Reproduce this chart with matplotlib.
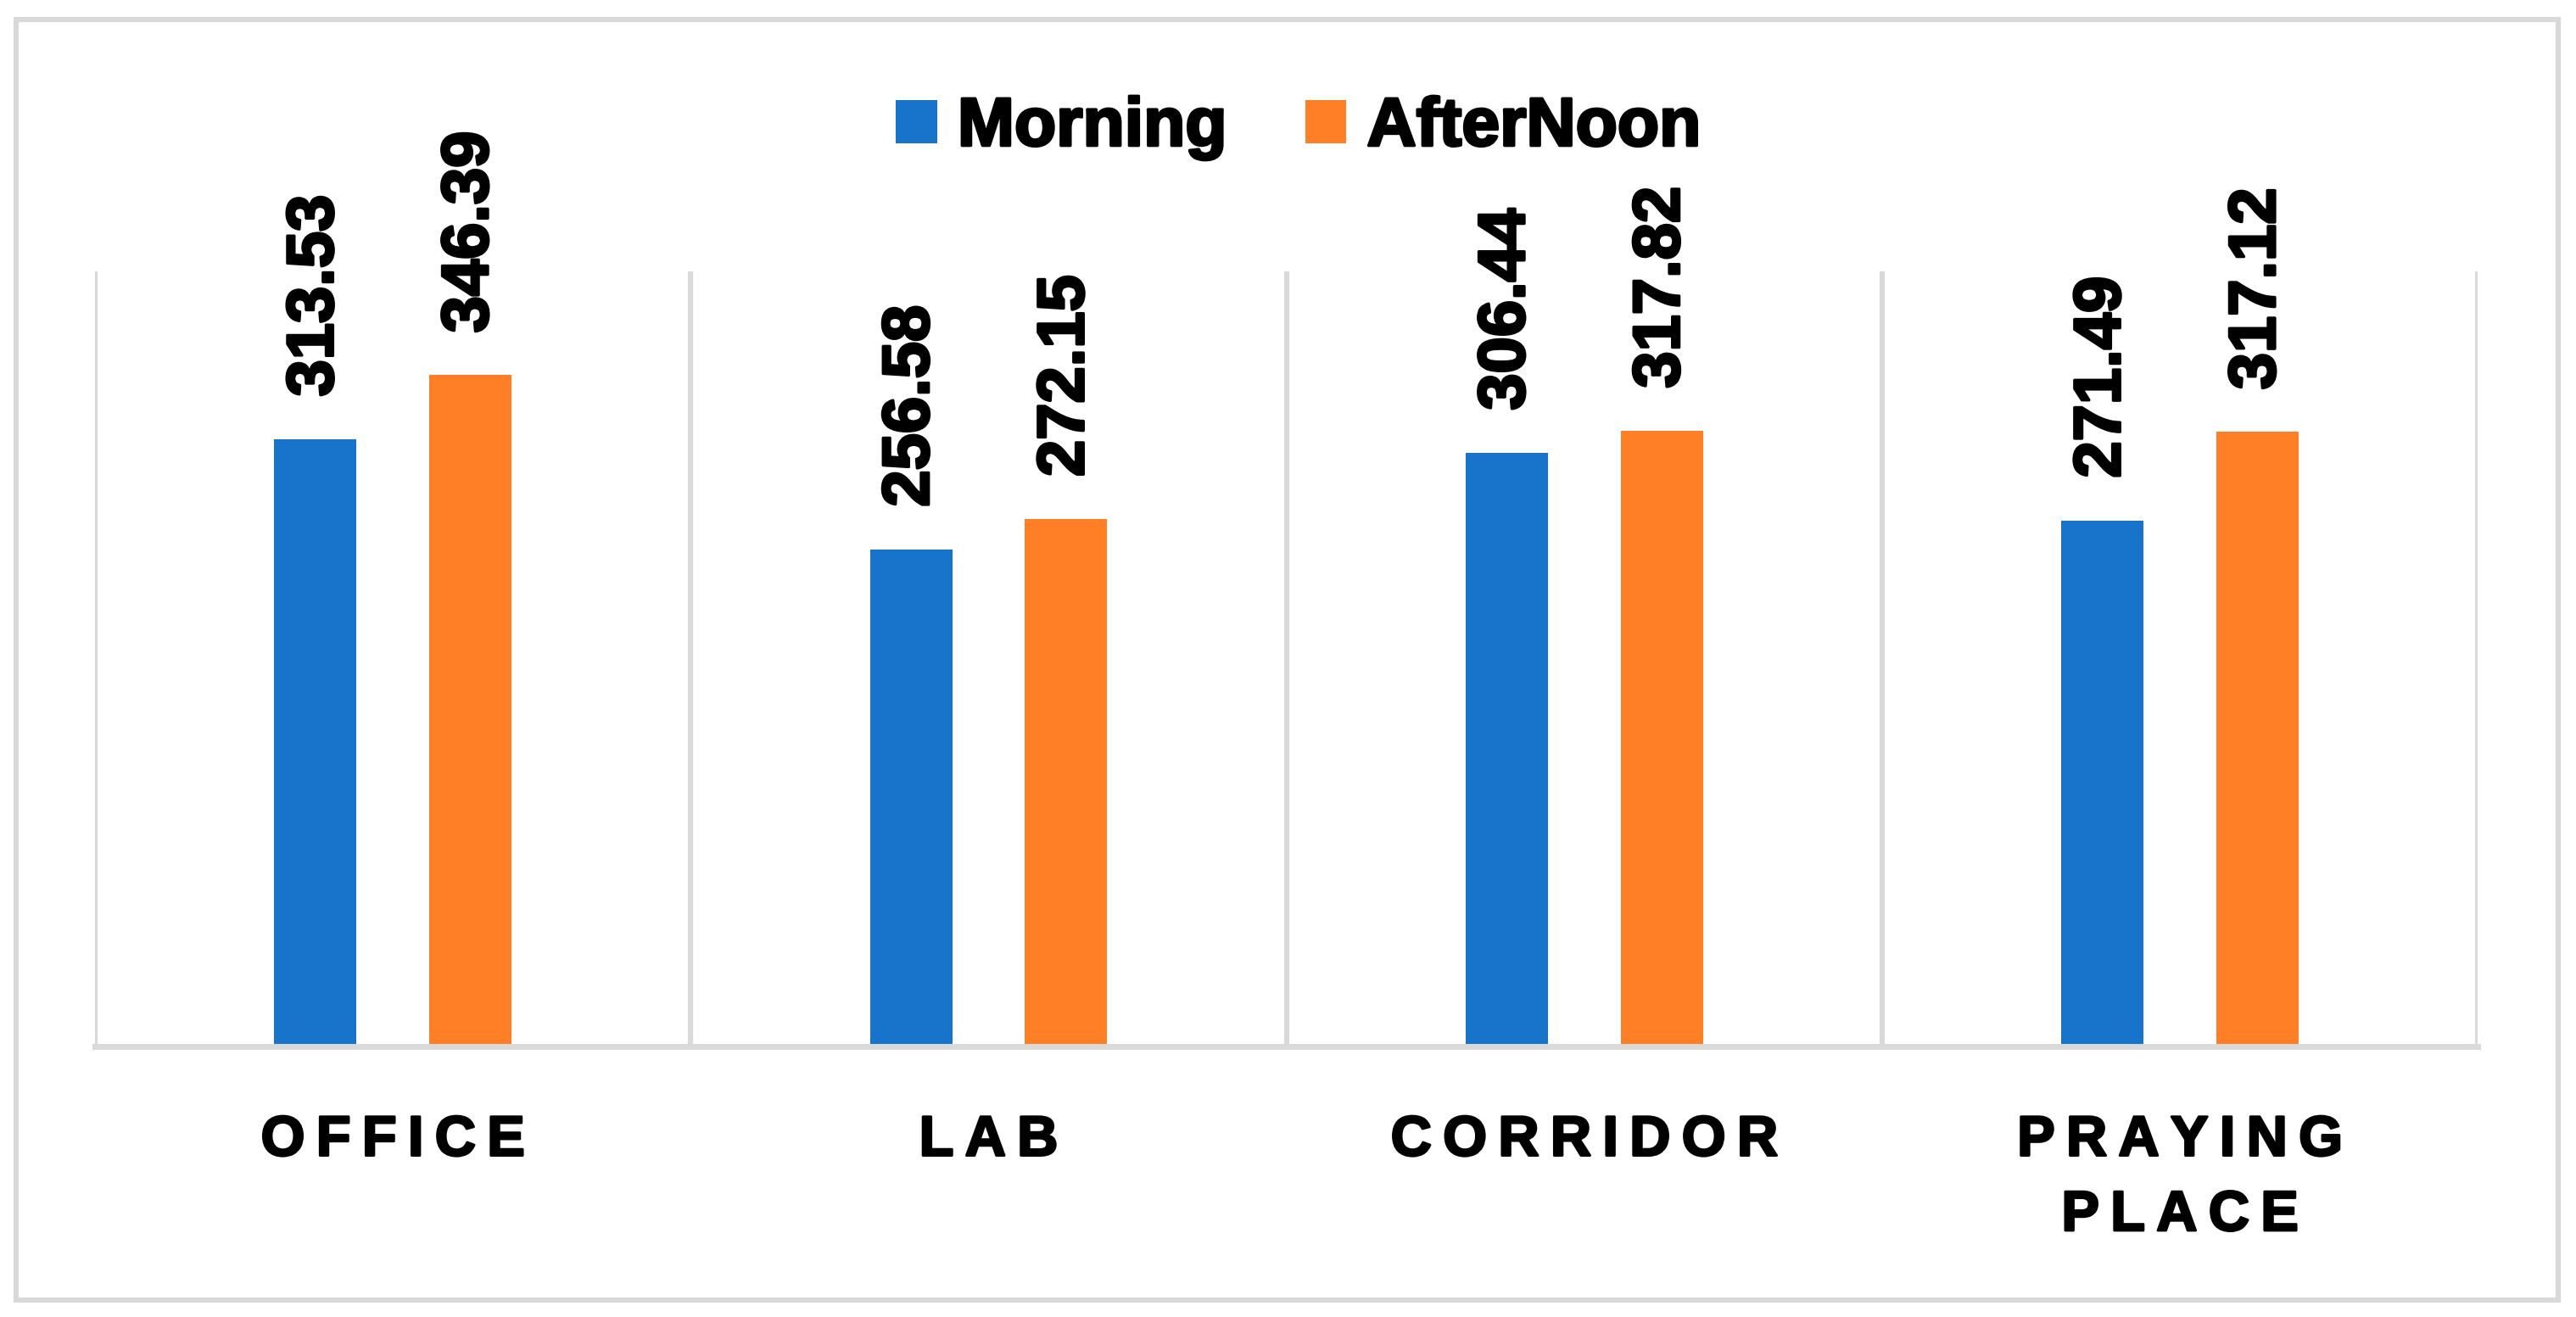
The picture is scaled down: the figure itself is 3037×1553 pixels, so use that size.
import numpy as np
import matplotlib.pyplot as plt
import matplotlib.patheffects as pe
from matplotlib.patches import Rectangle, Patch

# ============================================================
# DATA
# ============================================================
places = ['OFFICE', 'LAB', 'CORRIDOR', 'PRAYING PLACE']
morning = [313.53, 256.58, 306.44, 271.49]
afternoon = [346.39, 272.15, 317.82, 317.12]
series_names = ['Morning', 'AfterNoon']

blue = '#1873CB'
orange = '#FF7F27'
grid_gray = '#D9D9D9'

plt.rcParams['font.family'] = ['Liberation Sans', 'DejaVu Sans']
plt.rcParams['font.weight'] = 'bold'
heavy = [pe.withStroke(linewidth=1.2, foreground='black')]

# ============================================================
# CHART
# ============================================================
fig = plt.figure(figsize=(3037 / 200, 1553 / 200), dpi=200)
ax = fig.add_axes([0.0369, 0.2054, 0.925, 0.5886])

x = np.arange(len(places))
width = 0.138
offset = 0.13
bars_m = ax.bar(x - offset, morning, width, color=blue, zorder=3)
bars_a = ax.bar(x + offset, afternoon, width, color=orange, zorder=3)

for bars, vals in [(bars_m, morning), (bars_a, afternoon)]:
    for bar, val in zip(bars, vals):
        ax.annotate(f'{val:.2f}', (bar.get_x() + bar.get_width() / 2, bar.get_height()),
                    xytext=(0, 18), textcoords='offset points', rotation=90,
                    ha='center', va='bottom', fontsize=28, fontweight='bold', color='black',
                    path_effects=heavy)

ax.set_xlim(-0.5, len(places) - 0.5)
ax.set_ylim(0, 400)
ax.set_yticks([])

# category separators
ax.set_xticks(np.arange(-0.5, len(places)), minor=True)
ax.grid(which='minor', axis='x', color=grid_gray, linewidth=2.2, zorder=0)
ax.tick_params(which='minor', length=0)

# spaced-out category labels (thin spaces between letters, words on separate lines)
labels = ['\n'.join('\u2009'.join(word) for word in p.split(' ')) if p == 'PRAYING PLACE'
          else '\u2009'.join(p) for p in places]
ax.set_xticks(x)
ticklabels = ax.set_xticklabels(labels, fontsize=24, fontweight='bold', linespacing=1.55)
for t in ticklabels:
    t.set_path_effects([pe.withStroke(linewidth=1.0, foreground='black')])
ax.tick_params(axis='x', which='major', length=0, pad=29)

for side in ['top', 'left', 'right']:
    ax.spines[side].set_visible(False)
ax.spines['bottom'].set_color(grid_gray)
ax.spines['bottom'].set_linewidth(2.5)
ax.spines['bottom'].set_zorder(4)

handles = [Patch(facecolor=blue, label=series_names[0]), Patch(facecolor=orange, label=series_names[1])]
leg = fig.legend(handles=handles, loc='center', bbox_to_anchor=(0.504, 0.903), ncol=2, frameon=False,
                 prop={'size': 29, 'weight': 'bold'}, handlelength=0.6, handleheight=0.6,
                 handletextpad=0.3, columnspacing=1.15)
for t in leg.get_texts():
    t.set_path_effects(heavy)

# outer frame
fig.patches.append(Rectangle((0.0063, 0.0129), 0.9867, 0.9721, transform=fig.transFigure,
                             fill=False, edgecolor=grid_gray, linewidth=2.2))

plt.savefig('out.png', dpi=200)
